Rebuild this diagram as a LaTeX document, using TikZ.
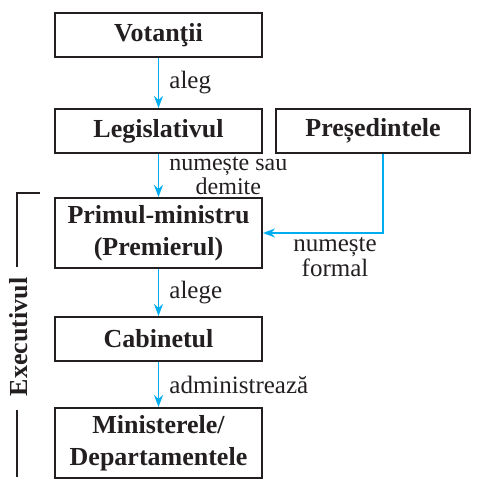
\documentclass[tikz,border=0pt]{standalone}
\usepackage{fontspec}
\setmainfont{Liberation Serif}
\usetikzlibrary{arrows.meta}
\definecolor{streamblue}{RGB}{0,174,239}
\definecolor{inkgray}{RGB}{35,31,32}

\begin{document}
\begin{tikzpicture}[x=0.5pt,y=-0.5pt,
    box/.style={draw=inkgray,line width=1pt,minimum width=103.5pt,minimum height=22pt,
                align=center,font=\fontsize{13}{16}\selectfont\bfseries,text=inkgray,inner sep=2pt},
    stream/.style={-{Stealth[length=6pt,width=4.5pt]},draw=streamblue,line width=0.9pt},
    lbl/.style={font=\fontsize{12.5}{10.5}\selectfont,text=inkgray,align=center,inner sep=2pt}]
    \useasboundingbox (0,0) rectangle (479,480);
    %boxes
    \node[box] (vot) at (158.5,35) {Votanţii};
    \node[box] (leg) at (158.5,131) {Legislativul};
    \node[box,minimum width=97pt] (pres) at (373,131) {Președintele};
    \node[box,minimum height=35pt] (prim) at (158.5,233) {Primul-ministru\\(Premierul)};
    \node[box] (cab) at (158.5,339) {Cabinetul};
    \node[box,minimum height=35pt] (min) at (158.5,443) {Ministerele/\\Departamentele};
    %streams
    \draw[stream] (vot) -- node[lbl,right,xshift=3pt]{aleg} (leg);
    \draw[stream] (leg) -- node[lbl,right,xshift=3pt,font=\fontsize{12}{10}\selectfont]{numește sau\\[0pt]demite} (prim);
    \draw[stream] ([xshift=5pt]pres.south) |- node[lbl,below,pos=0.7]{numește\\[0pt]formal} (prim.east);
    \draw[stream] (prim) -- node[lbl,right,xshift=3pt]{alege} (cab);
    \draw[stream] (cab) -- node[lbl,right,xshift=3pt]{administrează} (min);
    %executive bracket
    \node[rotate=90,font=\fontsize{13}{16}\selectfont\bfseries,text=inkgray] (exec) at (19,337) {Executivul};
    \draw[inkgray,line width=1pt] (40,193) -- (17,193) -- (17,267);
    \draw[inkgray,line width=1pt] (17,410) -- (17,477);
\end{tikzpicture}
\end{document}
